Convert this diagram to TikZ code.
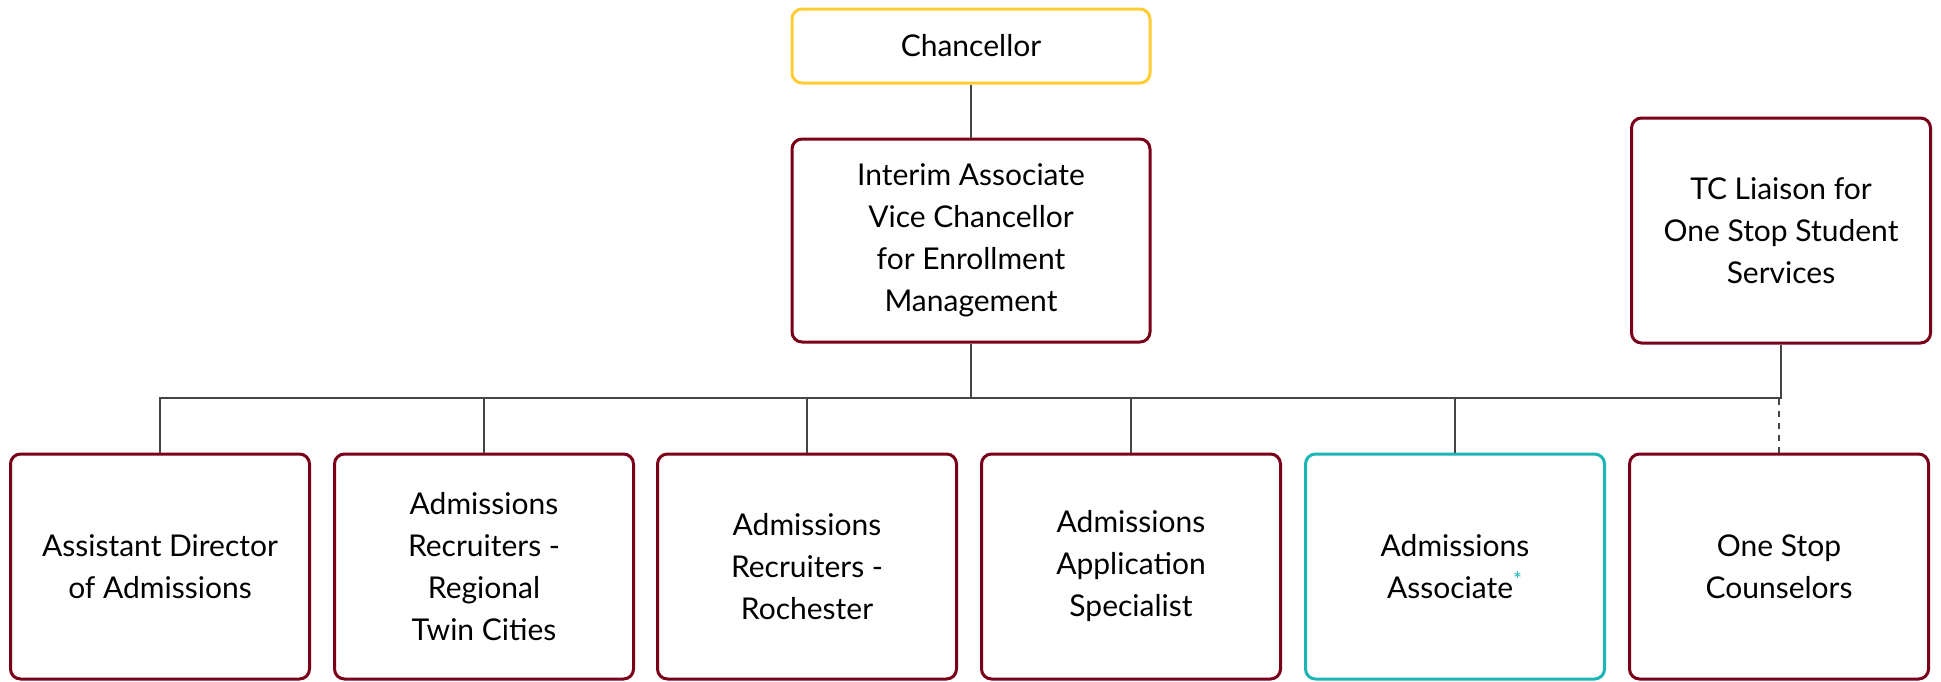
\documentclass[tikz,border=0pt]{standalone}
\usepackage{fontspec}
\setmainfont{Lato}
\definecolor{maroon}{HTML}{7A0019}
\definecolor{gold}{HTML}{FFCC33}
\definecolor{teal}{HTML}{1CB5B5}
\definecolor{linegrey}{HTML}{444444}
\tikzset{
    post/.style={draw=maroon, line width=1.5pt, rounded corners=5pt, align=center,
        minimum width=149.5pt, minimum height=112.5pt, inner sep=0pt,
        font=\fontsize{15}{21}\selectfont},
    top/.style={post, draw=gold, minimum width=179pt, minimum height=37pt},
    new/.style={post, draw=teal},
    conn/.style={draw=linegrey, line width=1pt}
}

\begin{document}
\begin{tikzpicture}[x=0.5pt, y=-0.5pt]
    \useasboundingbox (0,0) rectangle (1941,681);

    \node[top] at (971,46)     (chan)     {Chancellor};
    \node[post, minimum width=179pt, minimum height=101.5pt] at (971,240.5) (interim)
        {Interim Associate\\Vice Chancellor\\for Enrollment\\Management};
    \node[post] at (1781,230.5) (liaison) {TC Liaison for\\One Stop Student\\Services};

    \node[post] at (160,566.5)  (asstdir)  {Assistant Director\\of Admissions};
    \node[post] at (484,566.5)  (recrtc)   {Admissions\\Recruiters -\\Regional\\Twin Cities};
    \node[post] at (807,566.5)  (recrroch) {Admissions\\Recruiters -\\Rochester};
    \node[post] at (1131,566.5) (appspec)  {Admissions\\Application\\Specialist};
    \node[new]  at (1455,566.5) (assoc)    {Admissions\\Associate\textcolor{teal}{\textsuperscript{*}}};
    \node[post] at (1779,566.5) (onestop)  {One Stop\\Counselors};

    \coordinate (bus) at (971,397.5);

    \draw[conn] (chan) -- (interim);
    \draw[conn] (interim.south) -- (interim.south |- bus);
    \draw[conn] (asstdir.north) -- (asstdir.north |- bus) -- (liaison.south |- bus) -- (liaison.south);
    \draw[conn] (recrtc.north) -- (recrtc.north |- bus);
    \draw[conn] (recrroch.north) -- (recrroch.north |- bus);
    \draw[conn] (appspec.north) -- (appspec.north |- bus);
    \draw[conn] (assoc.north) -- (assoc.north |- bus);
    \draw[conn, dashed] (onestop.north) -- (onestop.north |- bus);
\end{tikzpicture}
\end{document}
